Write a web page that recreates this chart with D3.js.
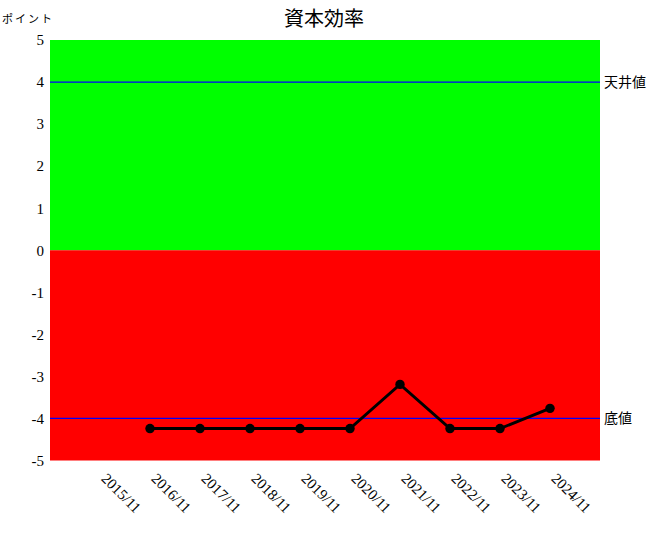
<!DOCTYPE html>
<html><head><meta charset="utf-8">
<script src="https://cdn.jsdelivr.net/npm/d3@7"></script>
<style>body{margin:0;background:#fff} .tk text{font-family:"Liberation Serif","DejaVu Serif",serif !important;}</style>
</head><body>
<svg id="c" width="650" height="540"></svg>
<script>
const categories = ["2015/11","2016/11","2017/11","2018/11","2019/11","2020/11","2021/11","2022/11","2023/11","2024/11"];
const values = [null,-4.24,-4.24,-4.24,-4.24,-4.24,-3.19,-4.24,-4.24,-3.76];
const yTicks = [5,4,3,2,1,0,-1,-2,-3,-4,-5];
const ceilingValue = 4, floorValue = -4;
const title = "資本効率", yUnit = "ポイント", ceilingLabel = "天井値", floorLabel = "底値";

const svg = d3.select("#c");
const L=50,R=600,T=40,B=460.5;
const x = d3.scaleLinear().domain([0, categories.length+1]).range([L,R]);
const y = d3.scaleLinear().domain([-5,5]).range([B,T]);
const cjk = "'Noto Sans CJK JP',sans-serif";

svg.append("rect").attr("x",L).attr("y",y(5)).attr("width",R-L).attr("height",y(0)-y(5)).attr("fill","#00ff00");
svg.append("rect").attr("x",L).attr("y",y(0)).attr("width",R-L).attr("height",y(-5)-y(0)).attr("fill","#ff0000");

[ceilingValue,floorValue].forEach(v=>{
  svg.append("line").attr("x1",L).attr("x2",R).attr("y1",y(v)).attr("y2",y(v)).attr("stroke","#0000ff").attr("stroke-width",1.2);
});
svg.append("text").attr("x",R+4).attr("y",y(ceilingValue)+5).attr("font-family",cjk).attr("font-size",14).text(ceilingLabel);
svg.append("text").attr("x",R+4).attr("y",y(floorValue)+5).attr("font-family",cjk).attr("font-size",14).text(floorLabel);

const yAxis = d3.axisLeft(y).tickValues(yTicks).tickFormat(d=>String(d)).tickSize(0).tickPadding(6);
const ga = svg.append("g").attr("class","tk").attr("transform",`translate(${L},0)`).call(yAxis);
ga.select(".domain").remove();
ga.selectAll("text").attr("font-size",15).attr("fill","#000");

const xAxis = d3.axisBottom(x).tickValues(d3.range(1,categories.length+1)).tickFormat(i=>categories[i-1]).tickSize(0);
const gx = svg.append("g").attr("class","tk").attr("transform",`translate(0,${B})`).call(xAxis);
gx.select(".domain").remove();
gx.selectAll("text").attr("font-size",15).attr("fill","#000")
  .attr("text-anchor","start").attr("dy",0).attr("y",0)
  .attr("transform","translate(0,19) rotate(45)");

const pts = values.map((v,i)=>({i:i+1,v})).filter(d=>d.v!==null);
svg.append("path").datum(pts).attr("fill","none").attr("stroke","#000").attr("stroke-width",3)
  .attr("d",d3.line().x(d=>x(d.i)).y(d=>y(d.v)));
svg.selectAll(".m").data(pts).join("path").attr("class","m")
  .attr("transform",d=>`translate(${x(d.i)},${y(d.v)})`)
  .attr("d",d3.symbol().type(d3.symbolCircle).size(70)).attr("fill","#000");

svg.append("text").attr("x",324).attr("y",26).attr("text-anchor","middle")
  .attr("font-family",cjk).attr("font-size",20).text(title);
svg.append("text").attr("x",2).attr("y",23).attr("font-family",cjk).attr("font-size",11).attr("letter-spacing",2).text(yUnit);
</script>
</body></html>
